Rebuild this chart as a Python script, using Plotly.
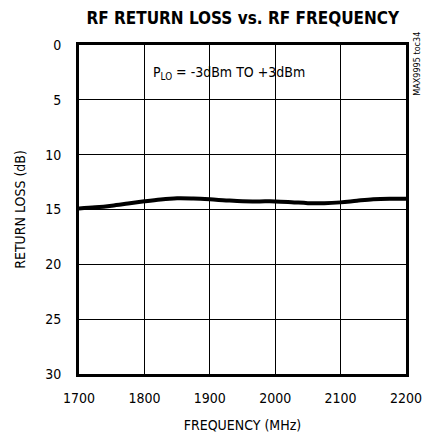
import plotly.graph_objects as go

freq_mhz = [1700, 1725, 1750, 1775, 1800, 1825, 1850, 1875, 1900, 1925, 1950, 1975, 2000, 2025, 2050, 2075, 2100, 2125, 2150, 2175, 2200]
return_loss_db = [14.9, 14.8, 14.65, 14.45, 14.25, 14.08, 13.98, 14.0, 14.07, 14.17, 14.25, 14.26, 14.26, 14.33, 14.42, 14.43, 14.35, 14.2, 14.07, 14.02, 14.02]
x_ticks = [1700, 1800, 1900, 2000, 2100, 2200]
y_ticks = [0, 5, 10, 15, 20, 25, 30]

FONT = "DejaVu Sans Condensed, Liberation Sans Narrow, sans-serif"

fig = go.Figure()
fig.add_trace(go.Scatter(x=freq_mhz, y=return_loss_db, mode="lines",
                         line=dict(color="black", width=4, shape="spline"),
                         showlegend=False, hoverinfo="skip"))

fig.update_layout(
    width=423, height=433,
    margin=dict(l=79, r=17, t=45, b=59),
    paper_bgcolor="white", plot_bgcolor="white",
    font=dict(family=FONT, size=14, color="black"),
    title=dict(text="<b>RF RETURN LOSS vs. RF FREQUENCY</b>",
               x=0.574, xanchor="center", y=0.958, yanchor="middle",
               font=dict(family=FONT, size=17, color="black")),
    xaxis=dict(range=[1700, 2200], tickvals=x_ticks, showgrid=True,
               gridcolor="black", gridwidth=1, zeroline=False,
               showline=True, linecolor="black", linewidth=3, mirror=True,
               ticks="", ticklen=0, ticklabelstandoff=9, ticklabeloverflow="allow",
               automargin=False,
               title=dict(text="FREQUENCY (MHz)", standoff=16, font=dict(size=14))),
    yaxis=dict(range=[30, 0], tickvals=y_ticks, showgrid=True,
               gridcolor="black", gridwidth=1, zeroline=False,
               showline=True, linecolor="black", linewidth=3, mirror=True,
               ticks="", ticklen=0, ticklabelstandoff=12, automargin=False,
               title=dict(text="RETURN LOSS (dB)", standoff=17, font=dict(size=14))),
    annotations=[
        dict(text="P<sub>LO</sub> = -3dBm TO +3dBm", x=0.46, y=0.915,
             xref="paper", yref="paper", showarrow=False,
             xanchor="center", yanchor="middle", font=dict(size=14)),
        dict(text="MAX9995 toc34", x=1.012, y=1.046, xref="paper", yref="paper",
             showarrow=False, textangle=-90, xanchor="left", yanchor="top",
             font=dict(size=9)),
    ],
)

fig.write_html("out.html", config={"displayModeBar": False},
               post_script="document.body.style.margin='0';")
